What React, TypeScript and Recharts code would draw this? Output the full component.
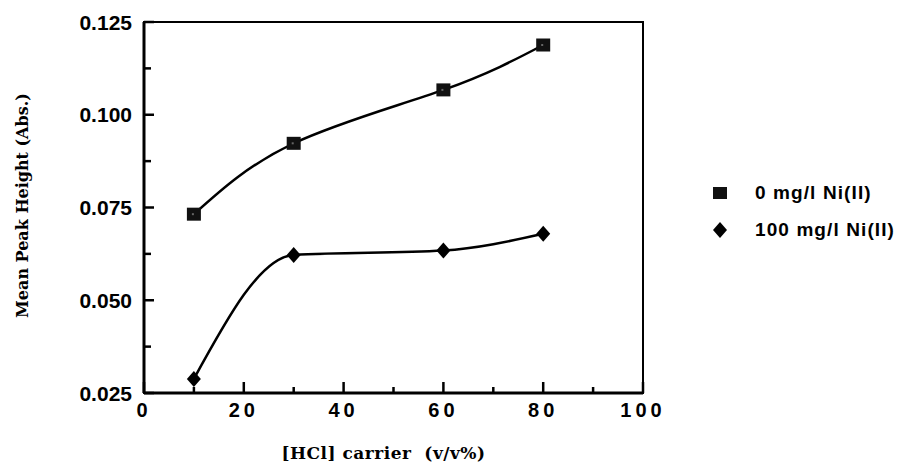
import {
  LineChart,
  Line,
  XAxis,
  YAxis,
  Legend,
  ReferenceArea,
} from "recharts";

// [HCl] carrier (v/v%)
const hclCarrier = [10, 30, 60, 80];
// mean peak height (Abs.) for each Ni(II) level
const noNickel = [0.0732, 0.0923, 0.1067, 0.1188];
const highNickel = [0.0288, 0.0622, 0.0634, 0.0679];

const seriesNames = ["0 mg/l Ni(II)", "100 mg/l Ni(II)"];

const xTicks = [0, 10, 20, 30, 40, 50, 60, 70, 80, 90, 100];
const xTickLabels = ["0", "20", "40", "60", "80", "100"];
const yTicks = [0.025, 0.0375, 0.05, 0.0625, 0.075, 0.0875, 0.1, 0.1125, 0.125];
const yTickLabels = ["0.025", "0.050", "0.075", "0.100", "0.125"];

const data = hclCarrier.map((x, i) => ({
  x,
  a: noNickel[i],
  b: highNickel[i],
}));

const SANS = "'Liberation Sans', Arial, sans-serif";
const SERIF = "'DejaVu Serif', 'Liberation Serif', serif";
const TICK_MARGIN = 12;

const XTick = ({ x, y, payload }: any) => {
  const v = payload.value;
  const label = xTickLabels.find((l) => Number(l) === v);
  const axisY = y - TICK_MARGIN;
  const len = label ? 11 : 6;
  return (
    <g>
      <line x1={x} x2={x} y1={axisY} y2={axisY - len} stroke="#000" strokeWidth={2.5} />
      {label && (
        <text
          x={x}
          y={axisY + 10}
          dy="0.72em"
          textAnchor="middle"
          fontFamily={SANS}
          fontWeight="bold"
          fontSize={20}
          letterSpacing={4}
          fill="#000"
        >
          {label}
        </text>
      )}
    </g>
  );
};

const YTick = ({ x, y, payload }: any) => {
  const v = payload.value;
  const label = yTickLabels.find((l) => Math.abs(Number(l) - v) < 1e-9);
  const axisX = x + TICK_MARGIN;
  const len = label ? 10 : 7;
  return (
    <g>
      <line x1={axisX} x2={axisX + len} y1={y} y2={y} stroke="#000" strokeWidth={2.5} />
      {label && (
        <text
          x={x}
          y={y}
          dy="0.36em"
          textAnchor="end"
          fontFamily={SANS}
          fontWeight="bold"
          fontSize={21}
          fill="#000"
        >
          {label}
        </text>
      )}
    </g>
  );
};

const SquareDot = ({ cx, cy }: any) => {
  if (cx == null || cy == null) return null;
  return (
    <g>
      <rect x={cx - 7} y={cy - 6.5} width={14} height={13} fill="#111" />
      <rect x={cx - 2} y={cy - 1} width={2} height={2} fill="#666" />
    </g>
  );
};

const DiamondDot = ({ cx, cy }: any) => {
  if (cx == null || cy == null) return null;
  return (
    <polygon
      points={`${cx},${cy - 8} ${cx + 7},${cy} ${cx},${cy + 8} ${cx - 7},${cy}`}
      fill="#000"
    />
  );
};

const YLabel = ({ viewBox }: any) => {
  const cx = viewBox.x + 22;
  const cy = viewBox.y + viewBox.height / 2 - 2;
  return (
    <text
      x={cx}
      y={cy}
      transform={`rotate(-90, ${cx}, ${cy})`}
      textAnchor="middle"
      dominantBaseline="central"
      fontFamily={SERIF}
      fontWeight="bold"
      fontSize={16}
      fill="#000"
    >
      Mean Peak Height (Abs.)
    </text>
  );
};

const XLabel = ({ viewBox }: any) => {
  const cx = viewBox.x + viewBox.width / 2 - 10;
  const cy = viewBox.y + 66;
  return (
    <text
      x={cx}
      y={cy}
      textAnchor="middle"
      fontFamily={SERIF}
      fontWeight="bold"
      fontSize={17}
      letterSpacing={0.5}
      fill="#000"
      style={{ whiteSpace: "pre" }}
    >
      {"[HCl] carrier  (v/v%)"}
    </text>
  );
};

const LegendContent = () => (
  <div style={{ fontFamily: SANS, fontWeight: "bold", fontSize: 19, letterSpacing: 1.1 }}>
    {seriesNames.map((name, i) => (
      <div key={name} style={{ display: "flex", alignItems: "center", height: 37 }}>
        <svg width={30} height={20} style={{ marginRight: 20 }}>
          {i === 0 ? (
            <rect x={8} y={4} width={14} height={12} fill="#111" />
          ) : (
            <polygon points="15,2 22,10 15,18 8,10" fill="#000" />
          )}
        </svg>
        <span>{name}</span>
      </div>
    ))}
  </div>
);

export default function App() {
  return (
    <div style={{ position: "absolute", left: 0, top: 0, background: "#fff" }}>
      <LineChart
        width={899}
        height={472}
        data={data}
        margin={{ top: 22, right: 256, bottom: 0, left: 0 }}
      >
        <ReferenceArea
          x1={0}
          x2={100}
          y1={0.025}
          y2={0.125}
          fill="none"
          stroke="#000"
          strokeWidth={2}
        />
        <XAxis
          type="number"
          dataKey="x"
          domain={[0, 100]}
          ticks={xTicks}
          interval={0}
          height={79}
          tickSize={0}
          tickMargin={TICK_MARGIN}
          tickLine={false}
          axisLine={{ stroke: "#000", strokeWidth: 3 }}
          tick={<XTick />}
          label={<XLabel />}
        />
        <YAxis
          type="number"
          domain={[0.025, 0.125]}
          ticks={yTicks}
          interval={0}
          width={144}
          tickSize={0}
          tickMargin={TICK_MARGIN}
          tickLine={false}
          axisLine={{ stroke: "#000", strokeWidth: 3 }}
          tick={<YTick />}
          label={<YLabel />}
        />
        <Legend
          layout="horizontal"
          verticalAlign="middle"
          align="center"
          content={<LegendContent />}
          wrapperStyle={{ left: 705, top: 174, width: 194 }}
        />
        <Line
          type="natural"
          dataKey="a"
          name={seriesNames[0]}
          stroke="#000"
          strokeWidth={2.5}
          dot={<SquareDot />}
          isAnimationActive={false}
        />
        <Line
          type="monotone"
          dataKey="b"
          name={seriesNames[1]}
          stroke="#000"
          strokeWidth={2.5}
          dot={<DiamondDot />}
          isAnimationActive={false}
        />
      </LineChart>
    </div>
  );
}
